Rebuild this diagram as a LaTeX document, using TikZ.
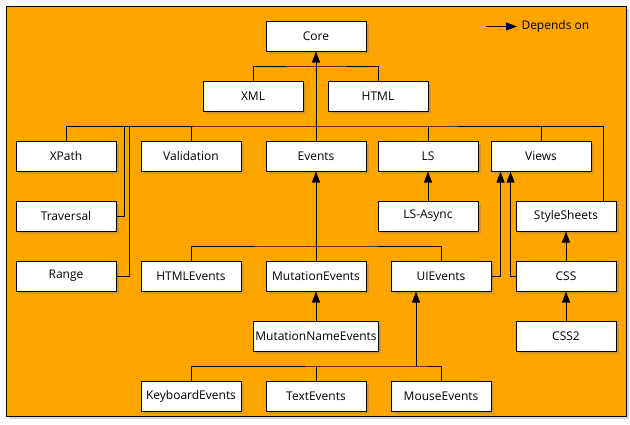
\documentclass[tikz,border=0pt]{standalone}
\usepackage{fontspec}
\setmainfont{Open Sans}
\usetikzlibrary{shapes,arrows.meta,shadows}
\definecolor{bgorange}{RGB}{255,165,0}

\begin{document}
\begin{tikzpicture}[x=1pt, y=-1pt, line width=1pt, >={Triangle[length=11pt,width=8pt]},
    module/.style={draw, fill=white, minimum width=100pt, minimum height=30pt, inner sep=0pt,
        font=\fontsize{12}{14}\selectfont,
        drop shadow={shadow xshift=2.5pt, shadow yshift=-2.5pt, opacity=0.35}}]

\useasboundingbox (0,0) rectangle (630,424);
\draw[fill=bgorange, drop shadow={shadow xshift=2.5pt, shadow yshift=-2.5pt, opacity=0.3}] (6,6) rectangle (626,416);

\draw
    node at(316,36)[module,name=Core]{Core}

    node at(253,96)[module,name=XML]{XML}
    node at(378,96)[module,name=HTML]{HTML}

    node at(66,156)[module,name=XPath]{XPath}
    node at(191,156)[module,name=Validation]{Validation}
    node at(316,156)[module,name=Events]{Events}
    node at(428,156)[module,name=LS]{LS}
    node at(541,156)[module,name=Views]{Views}

    node at(66,216)[module,name=Traversal]{Traversal}
    node at(428,216)[module,name=LSAsync]{LS-Async}
    node at(566,216)[module,name=StyleSheets]{StyleSheets}

    node at(66,276)[module,name=Range]{Range}
    node at(191,276)[module,name=HTMLEvents]{HTMLEvents}
    node at(316,276)[module,name=MutationEvents]{MutationEvents}
    node at(441,276)[module,name=UIEvents]{UIEvents}
    node at(566,276)[module,name=CSS]{CSS}

    node at(316,336)[module,minimum width=125pt,name=MutationNameEvents]{MutationNameEvents}
    node at(566,336)[module,name=CSSTwo]{CSS2}

    node at(191,396)[module,name=KeyboardEvents]{KeyboardEvents}
    node at(316,396)[module,name=TextEvents]{TextEvents}
    node at(441,396)[module,name=MouseEvents]{MouseEvents}

    node at(521,26.5)[anchor=west,inner sep=0pt,font=\fontsize{12}{14}\selectfont,name=legendtxt]{Depends on}
;
% bus points
\coordinate (corebus) at (316,66);
\coordinate (topbus) at (316,126);
\coordinate (travtop) at (124,126);
\coordinate (rangetop) at (129,126);
\coordinate (evbus) at (316,246);
\coordinate (uibus) at (416,366);
\coordinate (legend) at (486,26.5);

    \draw[->](legend) -- ([xshift=-4pt]legendtxt.west);

    \draw(XML.north) |- (corebus) -| (HTML.north);
    \draw[->](Events.north) -- (Core.south);

    \draw(XPath.north) |- (topbus) -| ([xshift=-13pt]StyleSheets.north east);
    \draw(Traversal.east) -| (travtop);
    \draw(Range.east) -| (rangetop);
    \draw(Validation.north) -- (Validation.north |- topbus);
    \draw(LS.north) -- (LS.north |- topbus);
    \draw(Views.north) -- (Views.north |- topbus);

    \draw(HTMLEvents.north) |- (evbus) -| (UIEvents.north);
    \draw[->](MutationEvents.north) -- (Events.south);
    \draw[->](LSAsync) -- (LS);

    \draw[->](UIEvents.east) -| ([xshift=10pt]Views.south west);
    \draw[->](CSS.west) -| ([xshift=20pt]Views.south west);
    \draw[->](CSS) -- (StyleSheets);
    \draw[->](CSSTwo) -- (CSS);
    \draw[->](MutationNameEvents) -- (MutationEvents);

    \draw(KeyboardEvents.north) |- (uibus) -| (MouseEvents.north);
    \draw(TextEvents.north) -- (TextEvents.north |- uibus);
    \draw[->](uibus) -- (uibus |- UIEvents.south);

\end{tikzpicture}
\end{document}
